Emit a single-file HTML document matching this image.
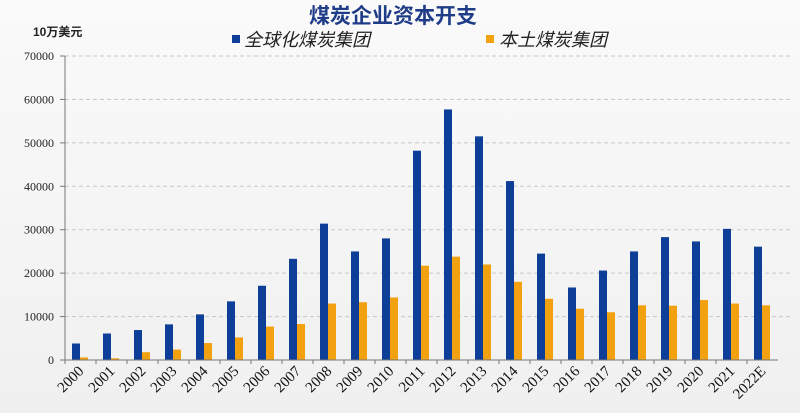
<!DOCTYPE html>
<html><head><meta charset="utf-8"><style>
body{margin:0;width:800px;height:413px;overflow:hidden;background:linear-gradient(180deg,#fafafa,#f0f0f0);}
svg{display:block}
</style></head><body>
<svg width="800" height="413" id="c" font-family="'Liberation Serif','Noto Serif CJK SC',serif">
<text x="393" y="23" text-anchor="middle" font-family="'Liberation Sans','Noto Sans CJK SC',sans-serif" font-weight="bold" font-size="21" fill="#1f3c88">煤炭企业资本开支</text>
<text x="33" y="36" font-family="'Liberation Sans','Noto Sans CJK SC',sans-serif" font-size="12" font-weight="bold" fill="#222">10万美元</text>
<g font-family="'Liberation Sans','Noto Sans CJK SC',sans-serif" font-size="18" font-style="italic" fill="#222">
<rect x="232" y="35" width="8" height="8" fill="#0d3f99"/>
<text x="244" y="46">全球化煤炭集团</text>
<rect x="486" y="35" width="8" height="8" fill="#f2a111"/>
<text x="499" y="46">本土煤炭集团</text>
</g>
<g id="plot"></g>
</svg>
<script>
const categories=["2000","2001","2002","2003","2004","2005","2006","2007","2008","2009","2010","2011","2012","2013","2014","2015","2016","2017","2018","2019","2020","2021","2022E"];
const globalValues=[3800,6100,6900,8200,10500,13500,17100,23300,31400,25000,28000,48200,57700,51500,41200,24500,16700,20600,25000,28300,27300,30200,26100];
const localValues=[600,400,1800,2400,3900,5200,7700,8300,13000,13300,14400,21700,23800,22000,18000,14100,11800,11000,12600,12500,13800,13000,12600];
const yTicks=[0,10000,20000,30000,40000,50000,60000,70000];
const ns="http://www.w3.org/2000/svg";
const g=document.getElementById('plot');
const x0=65,band=31,y0=360,yTop=56,yMax=70000;
const y=v=>y0-(v/yMax)*(y0-yTop);
const xb=i=>x0+i*band;
function mk(t,a){const e=document.createElementNS(ns,t);for(const k in a)e.setAttribute(k,a[k]);g.appendChild(e);return e;}
yTicks.forEach(v=>{
  if(v>0){const l=mk('line',{x1:x0,x2:790,y1:y(v),y2:y(v),stroke:'#c8c8c8','stroke-dasharray':'4,3'});
  
  }
  const t=mk('text',{x:x0-11,y:y(v)+4,'text-anchor':'end','font-size':12,fill:'#222'});
  t.textContent=v;
  
  
  const tk=mk('line',{x1:x0-5,x2:x0,y1:y(v),y2:y(v),stroke:'#777'});
  
  
});
categories.forEach((c,i)=>{
  const b=mk('rect',{x:xb(i)+7,y:y(globalValues[i]),width:8,height:y0-y(globalValues[i]),fill:'#0d3f99'});
  
  
  const o=mk('rect',{x:xb(i)+15,y:y(localValues[i]),width:8,height:y0-y(localValues[i]),fill:'#f2a111'});
  
  
  const tk=mk('line',{x1:xb(i),x2:xb(i),y1:y0,y2:y0+4,stroke:'#777'});
  
  
  const cx=xb(i)+band/2+4,cy=y0+12;
  const t=mk('text',{x:cx,y:cy,'text-anchor':'end','font-size':15,fill:'#111',transform:`rotate(-45 ${cx} ${cy})`});
  t.textContent=c;
  
  
});
const ax=mk('line',{x1:x0,x2:xb(categories.length),y1:y0,y2:y0,stroke:'#777'});


const ay=mk('line',{x1:x0,x2:x0,y1:yTop,y2:y0,stroke:'#777'});


</script>
</body></html>
